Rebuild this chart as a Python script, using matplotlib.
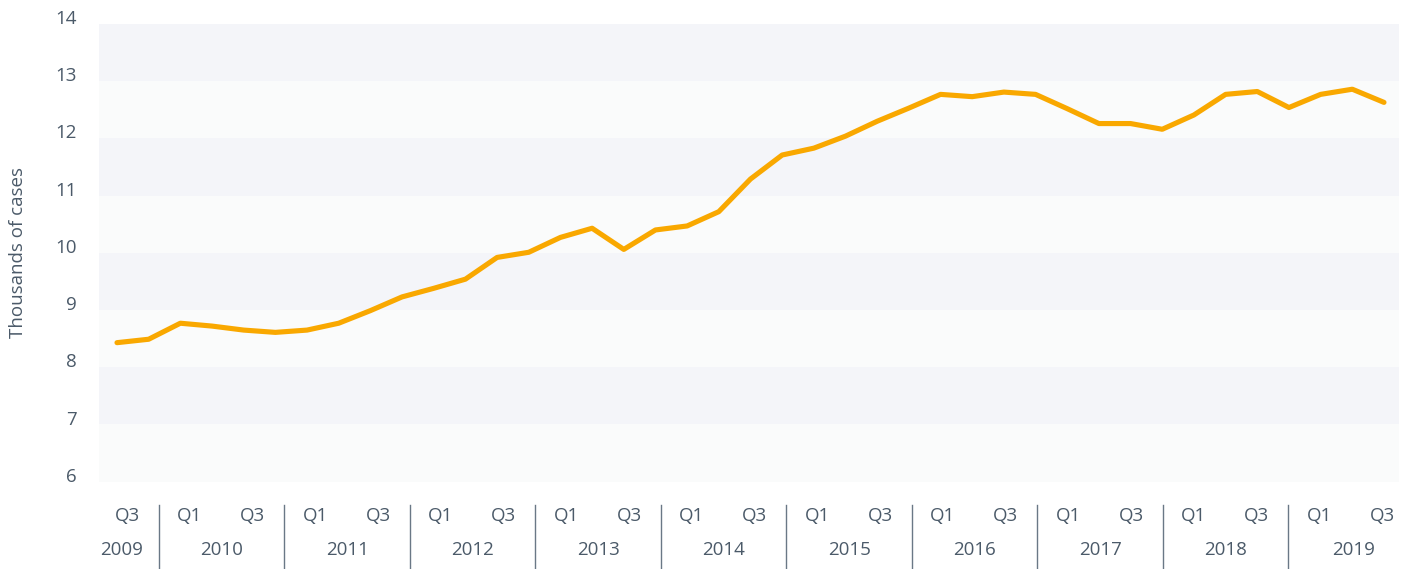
import matplotlib.pyplot as plt
from matplotlib.transforms import ScaledTranslation

# Quarterly cases, thousands, 2009 Q3 .. 2019 Q3
years = list(range(2009, 2020))
cases = [8.43, 8.49, 8.77, 8.72, 8.65, 8.61, 8.65, 8.77, 8.99, 9.23,
         9.38, 9.54, 9.92, 10.01, 10.27, 10.43, 10.06, 10.40, 10.47, 10.72,
         11.29, 11.71, 11.83, 12.04, 12.30, 12.53, 12.77, 12.73, 12.81, 12.77,
         12.52, 12.26, 12.26, 12.16, 12.41, 12.77, 12.82, 12.54, 12.77, 12.86,
         12.63]
y_ticks = [6, 7, 8, 9, 10, 11, 12, 13, 14]

# quarter label for every point (2009 Q3 is first)
quarters = []
for y in years:
    for q in range(1, 5):
        if (y == 2009 and q < 3) or (y == 2019 and q > 3):
            continue
        quarters.append(q)

text_col = '#4b5a69'
line_col = '#F9A800'
band_dark = '#f4f5f9'
band_light = '#fafbfb'

plt.rcParams['font.family'] = ['Open Sans', 'DejaVu Sans']

fig = plt.figure(figsize=(14.13, 5.69), dpi=100)
ax = fig.add_axes([99 / 1413, 1 - 481.7 / 569, 1300 / 1413, 457.7 / 569])

# alternating horizontal bands
for lo in range(6, 14):
    ax.axhspan(lo, lo + 1, color=band_dark if lo % 2 == 1 else band_light, lw=0, zorder=0)

x = list(range(len(cases)))
ax.plot(x, cases, color=line_col, lw=3.7, solid_capstyle='round',
        solid_joinstyle='round', zorder=3)

ax.set_xlim(-0.568, 40.474)
ax.set_ylim(6, 14)
for s in ax.spines.values():
    s.set_visible(False)

# y ticks, labels nudged up a little like the original
ax.set_yticks(y_ticks)
ax.tick_params(axis='y', length=0, pad=16, labelsize=13.5, labelcolor=text_col)
ax.set_xticks([])
offset = ScaledTranslation(0, 5 / 72, fig.dpi_scale_trans)
for lab in ax.get_yticklabels():
    lab.set_transform(lab.get_transform() + offset)

fig.text(18 / 1413, 1 - 252 / 569, 'Thousands of cases', rotation=90,
         ha='center', va='center', fontsize=13.5, color=text_col)

# quarter labels (Q1 / Q3) in row one
trans = ax.get_xaxis_transform()
for i, q in enumerate(quarters):
    if q in (1, 3):
        ax.text(0.316 + 0.9905 * i, -0.076, f'Q{q}', transform=trans,
                ha='center', va='center', fontsize=13.5, color=text_col, clip_on=False)

# year labels and separators
for k, yr in enumerate(years):
    xc = 0.16 if k == 0 else 3.31 + 3.962 * (k - 1)
    if yr == 2019:
        xc += 0.08
    ax.text(xc, -0.149, str(yr), transform=trans, ha='center', va='center',
            fontsize=13.5, color=text_col, clip_on=False)
for k in range(10):
    ax.plot([1.326 + 3.962 * k] * 2, [-0.051, -0.19], transform=trans,
            color='#6a7886', lw=1.0, clip_on=False)

fig.savefig('out.png', dpi=100, facecolor='white')
